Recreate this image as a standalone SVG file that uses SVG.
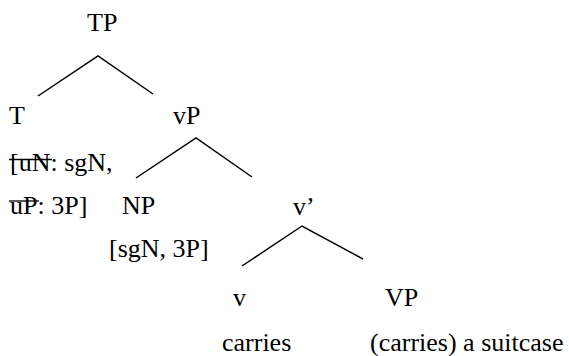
<svg xmlns="http://www.w3.org/2000/svg" width="569" height="356" viewBox="0 0 569 356">
<style>
text{font-family:"Liberation Serif","Times New Roman",serif !important;font-size:26px;fill:#000}
.e{stroke:#000;stroke-width:1.5;fill:none}
.s{stroke:#000;stroke-width:1.3}
</style>
<rect width="569" height="356" fill="#fff"/>
<g id="connectors">
<polyline class="e" points="38,96 98,56 153,94"/>
<polyline class="e" points="136,178 196,138 252,177"/>
<polyline class="e" points="242,266 302,226 363,259"/>
</g>
<g id="TP"><text x="87" y="31" style="font-family:'Liberation Serif',serif">TP</text></g>
<g id="T"><text x="9" y="124" style="font-family:'Liberation Serif',serif">T</text>
<text x="10" y="171" style="font-family:'Liberation Serif',serif">[uN: sgN,</text>
<text x="10" y="214" style="font-family:'Liberation Serif',serif">uP: 3P]</text>
<line class="s" x1="9" y1="159.5" x2="52" y2="159.5"/>
<line class="s" x1="9" y1="201" x2="39" y2="201"/>
</g>
<g id="vP"><text x="173" y="124" style="font-family:'Liberation Serif',serif">vP</text></g>
<g id="NP"><text x="122" y="214" style="font-family:'Liberation Serif',serif">NP</text><text x="109" y="257" style="font-family:'Liberation Serif',serif">[sgN, 3P]</text></g>
<g id="vbar"><text x="293" y="215" style="font-family:'Liberation Serif',serif">v&#8217;</text></g>
<g id="v"><text x="233" y="306" style="font-family:'Liberation Serif',serif">v</text><text x="222" y="351" style="font-family:'Liberation Serif',serif">carries</text></g>
<g id="VP"><text x="385" y="306" style="font-family:'Liberation Serif',serif">VP</text><text x="370" y="351" style="font-family:'Liberation Serif',serif">(carries) a suitcase</text></g>
</svg>
